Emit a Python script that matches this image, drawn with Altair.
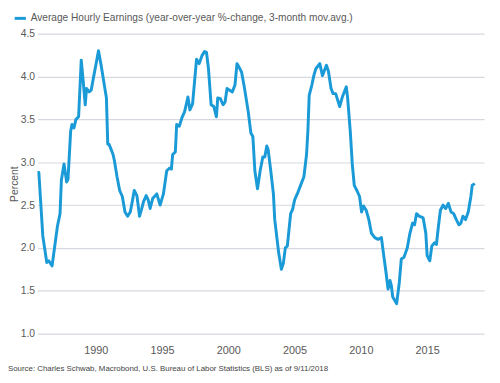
import altair as alt
import pandas as pd

SERIES = "Average Hourly Earnings (year-over-year %-change, 3-month mov.avg.)"

years = [1985.6, 1985.7, 1986.0, 1986.3, 1986.45, 1986.7, 1986.9, 1987.1, 1987.3, 1987.4, 1987.6,
         1987.8, 1987.9, 1988.1, 1988.2, 1988.35, 1988.5, 1988.7, 1988.8, 1988.9, 1989.05,
         1989.2, 1989.3, 1989.5, 1989.65, 1989.85, 1990.0, 1990.2, 1990.4, 1990.6, 1990.8,
         1990.9, 1991.0, 1991.1, 1991.3, 1991.4, 1991.6, 1991.8, 1992.0, 1992.2, 1992.4,
         1992.6, 1992.75, 1992.9, 1993.1, 1993.3, 1993.45, 1993.6, 1993.8, 1993.95, 1994.1,
         1994.3, 1994.6, 1994.85, 1995.1, 1995.35, 1995.55, 1995.7, 1995.8, 1996.0, 1996.1,
         1996.3, 1996.5, 1996.7, 1996.95, 1997.1, 1997.3, 1997.45, 1997.6, 1997.8, 1998.0,
         1998.2, 1998.35, 1998.5, 1998.7, 1998.9, 1999.1, 1999.2, 1999.4, 1999.6, 1999.75,
         1999.9, 2000.1, 2000.3, 2000.5, 2000.65, 2000.8, 2001.0, 2001.2, 2001.5, 2001.7,
         2001.85, 2002.0, 2002.2, 2002.4, 2002.6, 2002.75, 2002.9, 2003.0, 2003.2, 2003.4,
         2003.5, 2003.8, 2004.0, 2004.15, 2004.3, 2004.45, 2004.7, 2004.85, 2005.0, 2005.2,
         2005.45, 2005.7, 2005.9, 2006.0, 2006.1, 2006.3, 2006.45, 2006.6, 2006.9, 2007.1,
         2007.4, 2007.55, 2007.75, 2007.9, 2008.1, 2008.4, 2008.6, 2008.9, 2009.0, 2009.2,
         2009.35, 2009.5, 2009.7, 2009.9, 2010.05, 2010.2, 2010.4, 2010.6, 2010.8, 2011.05,
         2011.3, 2011.55, 2011.7, 2011.9, 2012.05, 2012.2, 2012.3, 2012.4, 2012.7, 2012.9,
         2013.05, 2013.25, 2013.5, 2013.7, 2013.9, 2014.05, 2014.2, 2014.4, 2014.7, 2014.9,
         2015.0, 2015.2, 2015.35, 2015.55, 2015.7, 2015.85, 2016.0, 2016.2, 2016.4, 2016.6,
         2016.8, 2017.0, 2017.2, 2017.4, 2017.55, 2017.7, 2017.9, 2018.1, 2018.3, 2018.4,
         2018.6]

values = [2.88, 2.88, 2.14, 1.83, 1.85, 1.79, 2.02, 2.25, 2.40, 2.79, 2.98,
          2.77, 2.80, 3.36, 3.44, 3.40, 3.50, 3.53, 3.86, 4.19, 3.94,
          3.67, 3.86, 3.82, 3.84, 4.01, 4.13, 4.30, 4.13, 3.94, 3.75,
          3.21, 3.21, 3.17, 3.09, 3.02, 2.83, 2.67, 2.60, 2.42, 2.37,
          2.42, 2.54, 2.67, 2.61, 2.37, 2.45, 2.54, 2.61, 2.56, 2.46,
          2.58, 2.63, 2.50, 2.63, 2.90, 2.93, 2.92, 3.09, 3.12, 3.44,
          3.42, 3.52, 3.59, 3.76, 3.61, 3.68, 3.94, 4.20, 4.15, 4.24,
          4.29, 4.28, 4.09, 3.67, 3.65, 3.53, 3.75, 3.74, 3.67, 3.70,
          3.86, 3.84, 3.82, 3.90, 4.15, 4.11, 4.05, 3.88, 3.59, 3.34,
          3.30, 2.90, 2.69, 2.90, 3.06, 3.06, 3.19, 3.15, 2.90, 2.63,
          2.33, 1.94, 1.75, 1.82, 2.00, 2.02, 2.40, 2.45, 2.56, 2.63,
          2.73, 2.83, 3.09, 3.36, 3.78, 3.90, 4.01, 4.09, 4.15, 4.01,
          4.13, 4.06, 3.86, 3.80, 3.80, 3.65, 3.76, 3.88, 3.75, 3.36,
          2.98, 2.73, 2.67, 2.60, 2.42, 2.49, 2.44, 2.33, 2.17, 2.12,
          2.10, 2.12, 1.94, 1.71, 1.52, 1.62, 1.56, 1.43, 1.35, 1.60,
          1.87, 1.89, 2.00, 2.17, 2.29, 2.27, 2.40, 2.37, 2.35, 2.17,
          1.91, 1.85, 2.02, 2.06, 2.04, 2.25, 2.44, 2.50, 2.46, 2.52,
          2.42, 2.40, 2.33, 2.27, 2.29, 2.37, 2.33, 2.42, 2.60, 2.73,
          2.75]

x_ticks = [1990, 1995, 2000, 2005, 2010, 2015]
y_ticks = [1.0, 1.5, 2.0, 2.5, 3.0, 3.5, 4.0, 4.5]
source = "Source: Charles Schwab, Macrobond, U.S. Bureau of Labor Statistics (BLS) as of 9/11/2018"

df = pd.DataFrame({"year": years, "value": values, "series": SERIES})

W, H = 454, 305
FONT = "Liberation Sans"
GREY = "#595959"
BLUE = "#1a9ad6"

line = alt.Chart(df).mark_line(strokeWidth=3, color=BLUE, strokeJoin="round").encode(
    x=alt.X("year:Q", scale=alt.Scale(domain=[1985.6, 2019.3], nice=False, zero=False),
            axis=alt.Axis(values=x_ticks, format="d", grid=False, domain=False, ticks=False,
                          labelFontSize=11, labelColor=GREY, labelFont=FONT, labelPadding=11,
                          title=None)),
    y=alt.Y("value:Q", scale=alt.Scale(domain=[1.0, 4.5], nice=False, zero=False),
            axis=alt.Axis(values=y_ticks, format=".1f", grid=True, gridColor="#d5d9df",
                          gridWidth=1.2, domain=False, ticks=False,
                          labelFontSize=10.5, labelColor=GREY, labelFont=FONT, labelPadding=3,
                          title="Percent", titleFontSize=10.5, titleColor=GREY, titleFont=FONT,
                          titleFontWeight="normal", titlePadding=1)),
    stroke=alt.Stroke("series:N", scale=alt.Scale(range=[BLUE]),
                      legend=alt.Legend(orient="none", legendX=-25, legendY=-23, title=None,
                                        symbolType="stroke", symbolStrokeWidth=3, symbolSize=130,
                                        labelFontSize=10.3, labelColor=GREY, labelFont=FONT,
                                        labelLimit=500, labelOffset=3)),
)

src = alt.Chart(pd.DataFrame({"t": [source]})).mark_text(
    align="left", baseline="middle", fontSize=8, color="#444444", font=FONT
).encode(text="t:N", x=alt.value(-30), y=alt.value(H + 36))

chart = alt.layer(line, src).properties(
    width=W, height=H,
    autosize=alt.AutoSizeParams(type="none"),
    padding={"left": 30, "top": 23, "right": 8, "bottom": 39},
).configure_view(stroke=None)

chart.save("out.html", embed_options={"renderer": "svg", "actions": False})
